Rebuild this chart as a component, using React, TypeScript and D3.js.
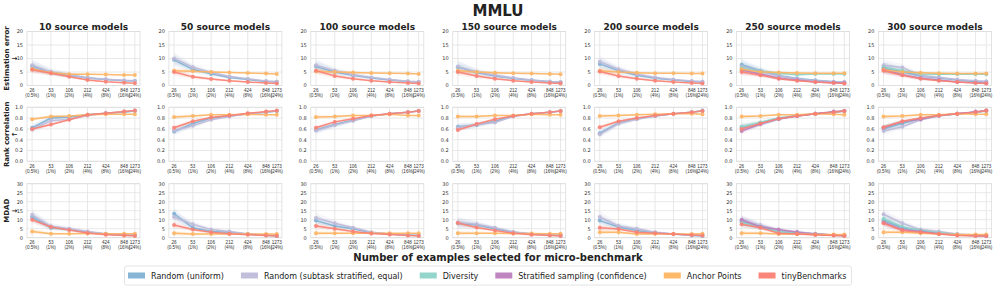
import React from "react";
import * as d3 from "d3";

// sample sizes on the x axis (log scale)
const sizes = [26, 53, 106, 212, 424, 848, 1273];
const sizePct = ["0.5%", "1%", "2%", "4%", "8%", "16%", "24%"];
const sourceModels = [10, 50, 100, 150, 200, 250, 300];

const methods = [
  "Random (uniform)",
  "Random (subtask stratified, equal)",
  "Diversity",
  "Stratified sampling (confidence)",
  "Anchor Points",
  "tinyBenchmarks",
];
const colors = ["#80b1d3", "#bebada", "#8dd3c7", "#bc80bd", "#fdb462", "#fb8072"];
const bandScale = [1, 1, 0.8, 0.8, 0.5, 0.6];

// --- Estimation error (one row per source-model column) ---
const errUniform = [
  [7.1, 4.8, 3.8, 2.8, 2.2, 1.8, 1.7],
  [9.5, 6.0, 4.3, 3.0, 2.2, 1.5, 1.3],
  [7.0, 5.0, 3.8, 2.8, 2.0, 1.5, 1.3],
  [6.8, 4.8, 3.5, 2.6, 1.9, 1.4, 1.2],
  [8.0, 5.5, 3.8, 2.7, 2.0, 1.5, 1.3],
  [7.7, 5.5, 3.6, 2.6, 1.9, 1.4, 1.2],
  [6.5, 5.0, 3.5, 2.8, 2.0, 1.5, 1.3],
];
const errSubtask = [
  [7.5, 5.0, 4.0, 2.8, 2.3, 1.9, 1.8],
  [10.0, 6.8, 4.8, 3.3, 2.5, 1.7, 1.5],
  [7.5, 5.5, 4.0, 3.0, 2.2, 1.6, 1.4],
  [7.0, 5.0, 3.8, 2.8, 2.0, 1.5, 1.3],
  [8.8, 6.0, 4.2, 3.0, 2.2, 1.7, 1.5],
  [7.0, 5.3, 3.5, 2.5, 1.8, 1.4, 1.3],
  [7.5, 6.7, 3.6, 3.0, 2.2, 1.8, 1.6],
];
const errDiversity = [null, null, null, null, null,
  [6.5, 5.2, 4.5, 4.0, 4.3, 4.3, 4.3],
  [6.8, 5.5, 4.3, 4.2, 4.2, 4.2, 4.2],
];
const errStratified = [null, null, null, null, null,
  [5.7, 4.3, 2.7, 2.0, 1.3, 1.0, 0.8],
  [6.0, 4.0, 2.7, 2.0, 1.3, 1.0, 0.8],
];
const errAnchor = [
  [6.1, 4.7, 4.2, 4.2, 4.1, 3.9, 3.9],
  [5.5, 5.3, 5.0, 4.8, 4.6, 4.4, 4.3],
  [5.3, 5.0, 4.8, 4.6, 4.5, 4.4, 4.3],
  [5.5, 5.0, 4.7, 4.5, 4.4, 4.3, 4.2],
  [5.5, 5.0, 4.7, 4.5, 4.5, 4.4, 4.4],
  [6.0, 5.0, 4.8, 4.6, 4.5, 4.5, 4.5],
  [5.8, 5.0, 4.7, 4.5, 4.4, 4.4, 4.4],
];
const errTiny = [
  [5.8, 4.5, 3.2, 2.0, 1.4, 1.0, 0.8],
  [5.0, 3.2, 2.4, 1.8, 1.3, 0.9, 0.7],
  [5.5, 3.5, 2.5, 1.8, 1.3, 0.9, 0.7],
  [5.0, 3.5, 2.5, 1.8, 1.3, 0.9, 0.7],
  [5.2, 3.5, 2.5, 1.8, 1.3, 0.9, 0.7],
  [5.0, 3.8, 2.5, 1.8, 1.3, 0.9, 0.7],
  [5.5, 3.8, 2.5, 1.8, 1.3, 0.9, 0.7],
];

// --- Rank correlation ---
const rankUniform = [
  [0.62, 0.80, 0.82, 0.86, 0.89, 0.91, 0.93],
  [0.55, 0.70, 0.80, 0.84, 0.88, 0.91, 0.93],
  [0.58, 0.68, 0.76, 0.84, 0.88, 0.91, 0.93],
  [0.64, 0.67, 0.74, 0.84, 0.88, 0.91, 0.93],
  [0.52, 0.71, 0.79, 0.84, 0.88, 0.91, 0.94],
  [0.62, 0.70, 0.79, 0.84, 0.88, 0.91, 0.93],
  [0.60, 0.70, 0.79, 0.85, 0.88, 0.91, 0.93],
];
const rankSubtask = [
  [0.59, 0.75, 0.78, 0.85, 0.89, 0.92, 0.94],
  [0.57, 0.66, 0.77, 0.83, 0.88, 0.91, 0.93],
  [0.57, 0.67, 0.75, 0.84, 0.88, 0.91, 0.93],
  [0.62, 0.68, 0.72, 0.83, 0.88, 0.91, 0.93],
  [0.50, 0.70, 0.78, 0.84, 0.88, 0.91, 0.93],
  [0.64, 0.69, 0.78, 0.85, 0.88, 0.91, 0.93],
  [0.56, 0.64, 0.77, 0.84, 0.88, 0.91, 0.93],
];
const rankDiversity = [null, null, null, null, null,
  [0.64, 0.72, 0.80, 0.85, 0.88, 0.91, 0.93],
  [0.62, 0.72, 0.79, 0.85, 0.88, 0.91, 0.93],
];
const rankStratified = [null, null, null, null, null,
  [0.56, 0.69, 0.79, 0.84, 0.88, 0.92, 0.93],
  [0.62, 0.73, 0.78, 0.85, 0.88, 0.92, 0.94],
];
const rankAnchor = [
  [0.78, 0.83, 0.84, 0.86, 0.87, 0.87, 0.87],
  [0.82, 0.84, 0.86, 0.86, 0.87, 0.86, 0.86],
  [0.82, 0.83, 0.85, 0.85, 0.87, 0.85, 0.85],
  [0.83, 0.83, 0.85, 0.85, 0.87, 0.86, 0.86],
  [0.84, 0.85, 0.86, 0.87, 0.88, 0.88, 0.87],
  [0.83, 0.84, 0.86, 0.86, 0.88, 0.87, 0.86],
  [0.83, 0.84, 0.86, 0.86, 0.88, 0.87, 0.87],
];
const rankTiny = [
  [0.60, 0.68, 0.77, 0.86, 0.89, 0.92, 0.94],
  [0.62, 0.74, 0.81, 0.85, 0.89, 0.92, 0.94],
  [0.62, 0.73, 0.79, 0.85, 0.88, 0.91, 0.93],
  [0.58, 0.69, 0.78, 0.84, 0.88, 0.91, 0.93],
  [0.63, 0.74, 0.80, 0.85, 0.88, 0.91, 0.93],
  [0.60, 0.70, 0.79, 0.84, 0.88, 0.91, 0.93],
  [0.63, 0.74, 0.80, 0.85, 0.88, 0.91, 0.94],
];

// --- MDAD ---
const mdadUniform = [
  [11.5, 5.5, 4.5, 3.0, 2.0, 1.5, 1.3],
  [13.3, 5.5, 3.5, 3.0, 2.0, 1.3, 1.0],
  [9.5, 6.5, 5.0, 2.8, 2.0, 1.5, 1.2],
  [8.0, 7.0, 5.0, 3.0, 2.0, 1.5, 1.2],
  [9.5, 6.0, 4.0, 2.8, 2.0, 1.2, 1.0],
  [9.0, 6.0, 3.5, 2.8, 2.0, 1.4, 1.2],
  [9.5, 5.5, 3.8, 2.5, 1.8, 1.3, 1.1],
];
const mdadSubtask = [
  [12.7, 6.3, 5.0, 3.5, 2.2, 1.8, 1.6],
  [11.5, 7.5, 4.5, 3.5, 2.0, 1.5, 1.3],
  [11.0, 8.0, 5.5, 3.0, 2.0, 1.5, 1.3],
  [8.5, 7.5, 5.5, 3.2, 2.2, 1.6, 1.3],
  [11.5, 6.5, 5.0, 3.0, 2.0, 1.5, 1.2],
  [9.5, 7.0, 4.0, 3.3, 2.2, 1.5, 1.3],
  [13.0, 8.0, 4.5, 3.5, 2.0, 1.5, 1.3],
];
const mdadDiversity = [null, null, null, null, null,
  [8.5, 6.0, 3.5, 2.5, 2.0, 1.4, 1.2],
  [10.5, 6.0, 4.0, 2.8, 1.8, 1.3, 1.2],
];
const mdadStratified = [null, null, null, null, null,
  [10.0, 6.0, 4.5, 3.0, 2.0, 1.5, 1.2],
  [8.5, 4.5, 3.5, 2.2, 1.5, 1.1, 1.0],
];
const mdadAnchor = [
  [3.5, 2.2, 2.2, 2.3, 2.2, 2.2, 2.2],
  [2.5, 2.0, 2.0, 2.0, 2.0, 2.0, 2.0],
  [2.5, 2.5, 2.5, 2.5, 2.5, 2.5, 2.5],
  [2.5, 2.5, 2.5, 2.3, 2.3, 2.2, 2.2],
  [3.0, 3.0, 2.0, 2.2, 2.0, 2.0, 2.2],
  [2.5, 2.5, 2.0, 2.0, 1.8, 1.8, 1.8],
  [3.0, 3.0, 2.5, 2.0, 1.8, 1.8, 1.8],
];
const mdadTiny = [
  [10.0, 6.0, 4.3, 2.6, 1.7, 1.2, 1.0],
  [7.0, 4.5, 3.0, 2.2, 1.7, 1.2, 1.0],
  [6.5, 5.0, 3.5, 2.3, 1.8, 1.2, 1.0],
  [8.2, 5.7, 4.0, 2.5, 1.7, 1.2, 1.0],
  [5.5, 4.8, 3.0, 2.5, 2.0, 1.5, 1.2],
  [7.5, 5.5, 2.5, 2.0, 1.5, 1.2, 1.0],
  [8.0, 4.0, 3.0, 2.0, 1.2, 1.0, 1.0],
];

// spread of the shaded bands, per sample size
const errBand = [2.2, 1.3, 0.9, 0.6, 0.4, 0.3, 0.3];
const rankBand = [0.07, 0.05, 0.03, 0.02, 0.015, 0.01, 0.01];
const mdadBand = [3.0, 1.8, 1.2, 0.8, 0.5, 0.4, 0.3];

const rows = [
  { label: "Estimation error", arrow: "↓", max: 20, ticks: [0, 5, 10, 15, 20], fmt: (d: number) => `${d}`, band: errBand,
    series: [errUniform, errSubtask, errDiversity, errStratified, errAnchor, errTiny] },
  { label: "Rank correlation", arrow: "↑", max: 1, ticks: [0, 0.2, 0.4, 0.6, 0.8, 1], fmt: (d: number) => d.toFixed(1), band: rankBand,
    series: [rankUniform, rankSubtask, rankDiversity, rankStratified, rankAnchor, rankTiny] },
  { label: "MDAD", arrow: "↓", max: 30, ticks: [0, 5, 10, 15, 20, 25, 30], fmt: (d: number) => `${d}`, band: mdadBand,
    series: [mdadUniform, mdadSubtask, mdadDiversity, mdadStratified, mdadAnchor, mdadTiny] },
];

const W = 996, H = 287;
const colLeft = 27, colPitch = 141.9, panelW = 113;
const rowTops = [31.5, 107.3, 183.7];
const panelH = 54;
const FONT = "DejaVu Sans";
const TICK_FONT = "Liberation Sans Narrow, Liberation Sans";

const measure = (() => {
  let ctx: CanvasRenderingContext2D | null = null;
  return (t: string, font: string) => {
    if (!ctx) ctx = document.createElement("canvas").getContext("2d");
    if (!ctx) return t.length * 4.8;
    ctx.font = font;
    return ctx.measureText(t).width;
  };
})();

const Panel: React.FC<{ r: number; c: number }> = ({ r, c }) => {
  const row = rows[r];
  const x0 = colLeft + c * colPitch;
  const y0 = rowTops[r];
  const span = sizes[sizes.length - 1] / sizes[0];
  const pad = Math.pow(span, 0.05);
  const x = d3.scaleLog().domain([sizes[0] / pad, sizes[sizes.length - 1] * pad]).range([x0, x0 + panelW]);
  const y = d3.scaleLinear().domain([0, row.max]).range([y0 + panelH, y0]);

  const line = d3.line<number>().x((_, i) => x(sizes[i])).y(d => y(d));
  const area = (k: number) => d3.area<number>()
    .x((_, i) => x(sizes[i]))
    .y0((d, i) => y(Math.max(0, d - row.band[i] * k)))
    .y1((d, i) => y(Math.min(row.max, d + row.band[i] * k)));

  return (
    <g>
      {/* grid */}
      {row.ticks.map(t => (
        <line key={"h" + t} x1={x0} x2={x0 + panelW} y1={y(t)} y2={y(t)} stroke="#e2e2e2" strokeWidth={0.8} />
      ))}
      {sizes.map(s => (
        <line key={"v" + s} x1={x(s)} x2={x(s)} y1={y0} y2={y0 + panelH} stroke="#e2e2e2" strokeWidth={0.8} />
      ))}
      <rect x={x0} y={y0} width={panelW} height={panelH} fill="none" stroke="#dcdcdc" strokeWidth={0.8} />
      {/* y ticks */}
      {row.ticks.map(t => (
        <text key={"yt" + t} x={x0 - 4} y={y(t) + 1.8} textAnchor="end" fontSize={5} fill="#333" fontFamily={FONT}>
          {row.fmt(t)}
        </text>
      ))}
      {/* x ticks */}
      {sizes.map((s, i) => (
        <text key={"xt" + s} x={x(s)} textAnchor="middle" fontSize={4.6} fill="#333" fontFamily={TICK_FONT}>
          <tspan x={x(s)} y={y0 + panelH + 6.5}>{s}</tspan>
          <tspan x={x(s)} y={y0 + panelH + 11.5}>({sizePct[i]})</tspan>
        </text>
      ))}
      {/* bands */}
      {row.series.map((ser, m) => {
        const vals = ser[c];
        if (!vals) return null;
        return (
          <g key={"b" + m}>
            <path d={area(bandScale[m])(vals) || ""} fill={colors[m]} opacity={0.12} />
            <path d={area(bandScale[m] * 0.5)(vals) || ""} fill={colors[m]} opacity={0.15} />
          </g>
        );
      })}
      {/* lines */}
      {row.series.map((ser, m) => {
        const vals = ser[c];
        if (!vals) return null;
        return (
          <g key={"l" + m} opacity={0.9}>
            <path d={line(vals) || ""} fill="none" stroke={colors[m]} strokeWidth={1.5} />
            {vals.map((v, i) => (
              <circle key={i} cx={x(sizes[i])} cy={y(v)} r={2} fill={colors[m]} />
            ))}
          </g>
        );
      })}
    </g>
  );
};

const Legend: React.FC = () => {
  const font = `8px "${FONT}"`;
  const patchW = 17, gapText = 6, gapItem = 17;
  let cx = 128;
  const items = methods.map((m, i) => {
    const item = { m, i, x: cx };
    cx += patchW + gapText + measure(m, font) + gapItem;
    return item;
  });
  const right = cx - gapItem + 5;
  const cy = 275.5;
  return (
    <g>
      <rect x={124.5} y={266} width={right - 124.5} height={19} rx={2} fill="white" stroke="#dddddd" strokeWidth={0.8} />
      {items.map(({ m, i, x }) => (
        <g key={m}>
          <rect x={x} y={cy - 3} width={patchW} height={6} fill={colors[i]} opacity={0.95} />
          <text x={x + patchW + gapText} y={cy + 3} fontSize={8} fill="#222" fontFamily={FONT}>{m}</text>
        </g>
      ))}
    </g>
  );
};

export default function App() {
  return (
    <svg width={W} height={H} style={{ position: "absolute", left: 0, top: 0, background: "white" }}>
      <text x={W / 2} y={16} textAnchor="middle" fontSize={15} fontWeight="bold" fontFamily={FONT} fill="#222">MMLU</text>
      {sourceModels.map((n, c) => (
        <text key={n} x={colLeft + c * colPitch + panelW / 2} y={29.5} textAnchor="middle" fontSize={9} fontWeight="bold"
          fontFamily={FONT} fill="#222">{n} source models</text>
      ))}
      {rows.map((row, r) => {
        const cy = rowTops[r] + panelH / 2;
        return (
          <g key={row.label}>
            <text transform={`translate(9,${cy}) rotate(-90)`} textAnchor="middle" fontSize={7} fontWeight="bold"
              fontFamily={FONT} fill="#222">{row.label}</text>
            <text transform={`translate(16.5,${cy}) rotate(-90)`} textAnchor="middle" fontSize={7} fontWeight="bold"
              fontFamily={FONT} fill="#222">{row.arrow}</text>
          </g>
        );
      })}
      {rows.map((_, r) => sourceModels.map((_, c) => <Panel key={`${r}-${c}`} r={r} c={c} />))}
      <text x={W / 2} y={261} textAnchor="middle" fontSize={10} fontWeight="bold" fontFamily={FONT} fill="#222">
        Number of examples selected for micro-benchmark
      </text>
      <Legend />
    </svg>
  );
}
